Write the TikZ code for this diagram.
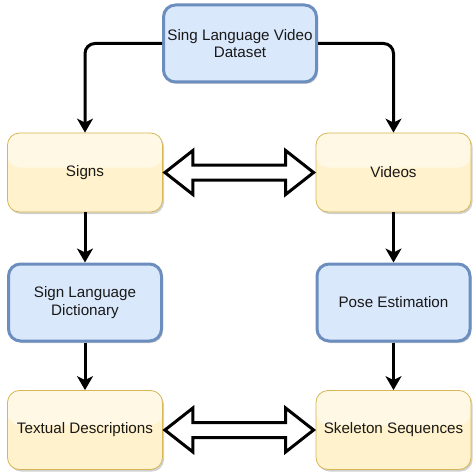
\documentclass[tikz,border=0pt]{standalone}
\usepackage{fontspec}
\setmainfont{Liberation Sans}
\usetikzlibrary{arrows.meta,calc,shadows}
\definecolor{bfill}{HTML}{DAE8FC}
\definecolor{bdraw}{HTML}{6C8EBF}
\definecolor{yfill}{HTML}{FFF2CC}
\definecolor{ydraw}{HTML}{D6B656}
\tikzset{
  box/.style={rounded corners=12pt, align=center, text=black!90,
    font=\fontsize{15.2pt}{17.6pt}\selectfont,
    drop shadow={shadow xshift=1.5pt, shadow yshift=-2pt, opacity=0.18, fill=black}},
  bluebox/.style={box, fill=bfill, draw=bdraw, line width=3pt,
    minimum width=153pt, minimum height=77pt, inner sep=0pt},
  yellowbox/.style={box, fill=yfill, draw=ydraw, line width=0.8pt,
    minimum width=155pt, minimum height=79pt, inner sep=0pt,
    path picture={\fill[white,opacity=0.5]
      (path picture bounding box.north west) rectangle
      ($(path picture bounding box.east)+(0,5pt)$);}},
  arr/.style={draw=black, line width=3pt, rounded corners=10pt,
    -{Stealth[length=14pt,width=16pt,inset=4pt]}},
  dbl/.style={draw=black, line width=3pt, fill=white, line join=miter}
}
\begin{document}
\begin{tikzpicture}[x=1pt,y=-1pt]
\useasboundingbox (0,0) rectangle (472,473);
\node[bluebox] (top) at (240,43.5) {Sing Language Video\\Dataset};
\node[yellowbox] (signs) at (85,172.5) {Signs};
\node[yellowbox] (videos) at (393.5,172.5) {Videos};
\node[bluebox] (dict) at (85,302.5) {Sign Language\\Dictionary};
\node[bluebox] (pose) at (393.5,302.5) {Pose Estimation};
\node[yellowbox] (text) at (85,430) {Textual Descriptions};
\node[yellowbox] (skel) at (393.5,430) {Skeleton Sequences};

\draw[arr] (top.west) -| (signs.north);
\draw[arr] (top.east) -| (videos.north);
\draw[arr] (signs.south) -- (dict.north);
\draw[arr] (videos.south) -- (pose.north);
\draw[arr] (dict.south) -- (text.north);
\draw[arr] (pose.south) -- (skel.north);

\foreach \a/\b in {signs/videos, text/skel}{
  \draw[dbl] ($(\a.east)+(2,0)$) -- ($(\a.east)+(30,-22)$) -- ($(\a.east)+(30,-7.5)$)
    -- ($(\b.west)+(-30,-7.5)$) -- ($(\b.west)+(-30,-22)$) -- ($(\b.west)+(-2,0)$)
    -- ($(\b.west)+(-30,22)$) -- ($(\b.west)+(-30,7.5)$) -- ($(\a.east)+(30,7.5)$)
    -- ($(\a.east)+(30,22)$) -- cycle;
}
\end{tikzpicture}
\end{document}
